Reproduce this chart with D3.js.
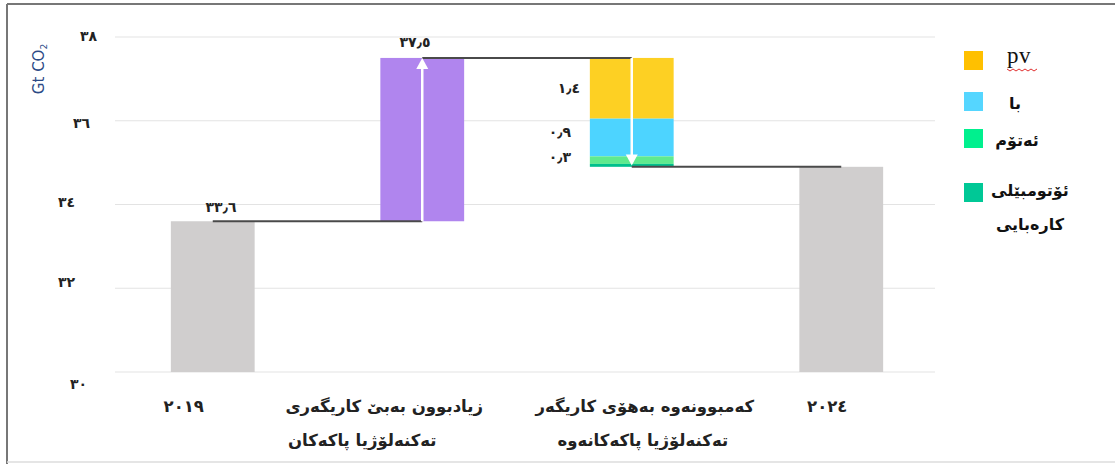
<!DOCTYPE html>
<html>
<head>
<meta charset="utf-8">
<script src="https://cdn.jsdelivr.net/npm/d3@7"></script>
<style>
  body { margin: 0; background: #fff; }
  svg text { font-family: "DejaVu Sans", sans-serif; }
</style>
</head>
<body>
<div id="chart"></div>
<script>
// data
var categories = ["2019", "increase", "decrease", "2024"];
var catLabels = [["٢٠١٩"], ["زیادبوون بەبێ کاریگەری", "تەکنەلۆژیا پاکەکان"],
                 ["کەمبوونەوە بەهۆی کاریگەر", "تەکنەلۆژیا پاکەکانەوە"], ["٢٠٢٤"]];
var start2019 = 33.6;
var noCleanTech = 37.5;
var end2024 = 34.9;
var techNames = ["pv", "با", "ئەتۆم", "ئۆتومبێلی|کارەبایی"];
var techCuts = [1.45, 0.9, 0.18, 0.07];
var techLabels = ["١٫٤", "٠٫٩", "٠٫٣", null];
var yTicks = [30, 32, 34, 36, 38];
var yTickLabels = ["٣٠", "٣٢", "٣٤", "٣٦", "٣٨"];

var W = 1115, H = 464;
var barColor = "#d0cece", purple = "#b085ee";
var techColors = ["#fdd023", "#4dd4ff", "#5fea8e", "#00c08c"];
var legendColors = ["#ffc000", "#55d6ff", "#00f08e", "#00c896"];

var svg = d3.select("#chart").append("svg")
  .attr("width", W).attr("height", H);

// frame
svg.append("line").attr("x1", 7).attr("x2", 7).attr("y1", 4).attr("y2", H)
  .attr("stroke", "#777").attr("stroke-width", 2);
svg.append("line").attr("x1", 7).attr("x2", W).attr("y1", 4).attr("y2", 4)
  .attr("stroke", "#777").attr("stroke-width", 2);
svg.append("line").attr("x1", 7).attr("x2", W).attr("y1", 462).attr("y2", 462)
  .attr("stroke", "#ddd").attr("stroke-width", 1.5);

var x = d3.scaleBand().domain(categories).range([108, 946])
  .paddingInner(0.6).paddingOuter(0.3);
var y = d3.scaleLinear().domain([30, 38]).range([372, 37]);
var cx = function(c) { return x(c) + x.bandwidth() / 2; };

// grid
svg.append("g").selectAll("line").data(yTicks).join("line")
  .attr("x1", 115).attr("x2", 935)
  .attr("y1", function(d) { return y(d); }).attr("y2", function(d) { return y(d); })
  .attr("stroke", "#e3e3e3").attr("stroke-width", 1.2);

// tick labels (staggered like the source)
var tickShift = [[87, 12], [75, -6], [75, -2], [90, 2], [97, -1]];
svg.append("g").selectAll("text").data(yTicks).join("text")
  .attr("x", function(d, i) { return tickShift[i][0]; })
  .attr("y", function(d, i) { return y(d) + tickShift[i][1]; })
  .attr("dy", "0.35em").attr("text-anchor", "end")
  .attr("font-size", 14).attr("font-weight", "bold").attr("fill", "#222")
  .text(function(d, i) { return yTickLabels[i]; });

var ylab = svg.append("text")
  .attr("transform", "translate(44,69) rotate(-90)")
  .attr("text-anchor", "middle").attr("font-size", 15).attr("fill", "#2c4a86");
ylab.append("tspan").text("Gt CO");
ylab.append("tspan").attr("font-size", 9).attr("dy", 3).text("2");

// totals
svg.append("rect").attr("x", x("2019")).attr("width", x.bandwidth())
  .attr("y", y(start2019)).attr("height", y(30) - y(start2019)).attr("fill", barColor);
svg.append("rect").attr("x", x("2024")).attr("width", x.bandwidth())
  .attr("y", y(end2024)).attr("height", y(30) - y(end2024)).attr("fill", barColor);
svg.append("rect").attr("x", x("increase")).attr("width", x.bandwidth())
  .attr("y", y(noCleanTech)).attr("height", y(start2019) - y(noCleanTech)).attr("fill", purple);

// stacked reductions
var level = noCleanTech;
techCuts.forEach(function(v, i) {
  svg.append("rect").attr("x", x("decrease")).attr("width", x.bandwidth())
    .attr("y", y(level)).attr("height", y(level - v) - y(level)).attr("fill", techColors[i]);
  if (techLabels[i]) {
    var ly = i == 0 ? y(level - v / 2) : (i == 1 ? y(level) + 13 : y(level) + 1);
    svg.append("text").attr("x", x("decrease") - (i == 0 ? 21 : 30)).attr("y", ly)
      .attr("dy", "0.35em").attr("text-anchor", "middle")
      .attr("font-size", 14).attr("font-weight", "bold").attr("fill", "#222")
      .text(techLabels[i]);
  }
  level -= v;
});

// connectors
var conn = [[cx("2019"), cx("increase"), start2019],
            [cx("increase"), cx("decrease"), noCleanTech],
            [cx("decrease"), cx("2024"), end2024]];
svg.append("g").selectAll("line").data(conn).join("line")
  .attr("x1", function(d) { return d[0]; }).attr("x2", function(d) { return d[1]; })
  .attr("y1", function(d) { return y(d[2]); }).attr("y2", function(d) { return y(d[2]); })
  .attr("stroke", "#4a4a4a").attr("stroke-width", 2);

// white arrows
function arrow(xp, from, to) {
  var y0 = y(from), y1 = y(to), dir = y1 < y0 ? 1 : -1;
  svg.append("line").attr("x1", xp).attr("x2", xp).attr("y1", y0).attr("y2", y1 + dir * 8)
    .attr("stroke", "#fff").attr("stroke-width", 2.5);
  svg.append("path")
    .attr("d", "M" + (xp - 6) + "," + (y1 + dir * 11) + "L" + xp + "," + y1 + "L" + (xp + 6) + "," + (y1 + dir * 11) + "Z")
    .attr("fill", "#fff");
}
arrow(cx("increase"), start2019, noCleanTech);
arrow(cx("decrease"), noCleanTech, end2024 + 0.03);

// value labels
svg.append("text").attr("x", 221).attr("y", y(start2019) - 9)
  .attr("text-anchor", "middle").attr("font-size", 14).attr("font-weight", "bold")
  .attr("fill", "#222").text("٣٣٫٦");
svg.append("text").attr("x", 415).attr("y", y(noCleanTech) - 11)
  .attr("text-anchor", "middle").attr("font-size", 14).attr("font-weight", "bold")
  .attr("fill", "#222").text("٣٧٫٥");

// category labels
var labelShift = [[-29], [-38, -60], [13, 11], [-14]];
categories.forEach(function(c, i) {
  catLabels[i].forEach(function(t, j) {
    svg.append("text").attr("x", cx(c) + labelShift[i][j]).attr("y", 412 + j * 34)
      .attr("text-anchor", "middle").attr("font-size", 16.5).attr("font-weight", "bold")
      .attr("fill", "#222").attr("direction", "rtl").style("unicode-bidi", "plaintext")
      .text(t);
  });
});

// legend
var legY = [51, 92, 129, 183];
var legTextX = [1007, 1015, 1017, 1030];
var legend = svg.append("g");
techNames.forEach(function(n, i) {
  legend.append("rect").attr("x", 964).attr("y", legY[i]).attr("width", 19).attr("height", 19)
    .attr("fill", legendColors[i]);
  n.split("|").forEach(function(p, j) {
    var t = legend.append("text").attr("fill", "#111");
    if (i == 0) {
      t.attr("x", legTextX[i]).attr("y", 63).attr("text-anchor", "start")
        .attr("font-size", 23).style("letter-spacing", "0.5px")
        .style("font-family", "'Liberation Serif', serif").text(p);
    } else {
      t.attr("x", legTextX[i]).attr("y", [0, 103, 140, 190][i] + j * 34)
        .attr("dy", "0.35em").attr("text-anchor", "middle")
        .attr("font-size", 16).attr("font-weight", "bold").text(p);
    }
  });
});
// red spell-check squiggle under "pv"
var sq = d3.path();
sq.moveTo(1007, 69);
for (var k = 0; k < 10; k++) sq.lineTo(1010 + k * 3, k % 2 ? 69 : 71);
legend.append("path").attr("d", sq.toString()).attr("fill", "none")
  .attr("stroke", "#e03030").attr("stroke-width", 1);
</script>
</body>
</html>
